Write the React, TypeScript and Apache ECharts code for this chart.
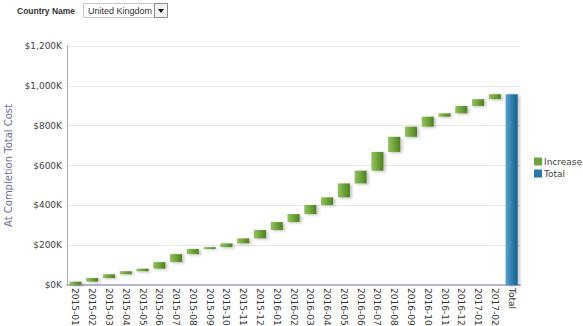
import React, { useEffect, useRef } from "react";
import * as echarts from "echarts";

// Monthly increases of at-completion total cost, in $K
const months = [
  "2015-01", "2015-02", "2015-03", "2015-04", "2015-05", "2015-06", "2015-07",
  "2015-08", "2015-09", "2015-10", "2015-11", "2015-12", "2016-01", "2016-02",
  "2016-03", "2016-04", "2016-05", "2016-06", "2016-07", "2016-08", "2016-09",
  "2016-10", "2016-11", "2016-12", "2017-01", "2017-02",
];
const increases = [
  17, 18, 19, 15, 13, 33, 40, 26, 9, 19, 25, 42, 40, 40, 46, 38, 70, 64, 94,
  76, 51, 50, 17, 37, 34, 25,
];
const totalLabel = "Total";
const yTicks = [0, 200, 400, 600, 800, 1000, 1200];

const FONT = "DejaVu Sans";
const HEAD_FONT = "Liberation Sans";

export default function App() {
  const ref = useRef<HTMLDivElement>(null);

  useEffect(() => {
    if (!ref.current) return;
    const chart = echarts.init(ref.current, undefined, { renderer: "svg" });

    const categories = [...months, totalLabel];
    const total = increases.reduce((a, b) => a + b, 0);
    const bases: number[] = [];
    let run = 0;
    increases.forEach((v) => {
      bases.push(run);
      run += v;
    });

    const baseData = [...bases, 0];
    const incData: (number | string)[] = [...increases, "-"];
    const totData: (number | string)[] = [...months.map(() => "-"), total];

    const green = new echarts.graphic.LinearGradient(0, 0, 1, 0, [
      { offset: 0, color: "#93c263" },
      { offset: 0.45, color: "#73a73f" },
      { offset: 1, color: "#507f22" },
    ]);
    const blue = new echarts.graphic.LinearGradient(0, 0, 1, 0, [
      { offset: 0, color: "#5ea3cb" },
      { offset: 0.5, color: "#2f7fb0" },
      { offset: 1, color: "#15618f" },
    ]);
    const shadow = {
      shadowColor: "rgba(0,0,0,0.25)",
      shadowBlur: 3,
      shadowOffsetX: 2,
      shadowOffsetY: 1,
    };

    chart.setOption({
      animation: false,
      textStyle: { fontFamily: FONT },
      grid: {
        left: 67,
        right: 63,
        top: 46,
        bottom: 41,
        containLabel: false,
        outerBoundsMode: "none",
      },
      legend: {
        data: [
          { name: "Increase", itemStyle: { color: "#6fa23c" } },
          { name: "Total", itemStyle: { color: "#2a78a8" } },
        ],
        orient: "vertical",
        left: 529,
        top: 152,
        itemWidth: 8,
        itemHeight: 8,
        itemGap: 3,
        icon: "rect",
        textStyle: { fontSize: 9, color: "#444", fontFamily: FONT, padding: [0, 0, 0, -3] },
      },
      xAxis: {
        type: "category",
        data: categories,
        axisLine: { lineStyle: { color: "#b4b4cc", width: 2 } },
        axisTick: { show: false },
        axisLabel: {
          rotate: -90,
          interval: 0,
          margin: 3,
          fontSize: 9,
          color: "#333",
          fontFamily: FONT,
        },
      },
      yAxis: {
        type: "value",
        min: yTicks[0],
        max: yTicks[yTicks.length - 1],
        interval: 200,
        name: "At Completion Total Cost",
        nameLocation: "middle",
        nameGap: 52,
        nameTextStyle: { color: "#6e6e9e", fontSize: 10, fontFamily: FONT },
        axisLine: { show: true, lineStyle: { color: "#a6a6c6", width: 1 } },
        axisTick: { show: false },
        splitLine: { lineStyle: { color: "#e6e6ee" } },
        axisLabel: {
          fontSize: 9,
          color: "#444",
          margin: 5,
          fontFamily: FONT,
          formatter: (v: number) => "$" + v.toLocaleString("en-US") + "K",
        },
      },
      series: [
        {
          name: "base",
          type: "bar",
          stack: "w",
          data: baseData,
          itemStyle: { color: "transparent" },
          emphasis: { disabled: true },
          barCategoryGap: "28%",
        },
        {
          name: "Increase",
          type: "bar",
          stack: "w",
          data: incData,
          itemStyle: { color: green, ...shadow },
        },
        {
          name: "Total",
          type: "bar",
          stack: "w",
          data: totData,
          itemStyle: { color: blue, ...shadow },
        },
      ],
      graphic: [
        {
          type: "text",
          left: 17,
          top: 6,
          style: {
            text: "Country Name",
            font: `bold 8.5px ${HEAD_FONT}`,
            fill: "#333",
          },
        },
        {
          type: "rect",
          shape: { x: 83.5, y: 3.5, width: 71, height: 14 },
          style: { fill: "#fff", stroke: "#c8c8c8", lineWidth: 1 },
        },
        {
          type: "text",
          left: 88,
          top: 6,
          style: { text: "United Kingdom", font: `9px ${HEAD_FONT}`, fill: "#333" },
        },
        {
          type: "rect",
          shape: { x: 154.5, y: 3.5, width: 13, height: 14 },
          style: { fill: "#f2f2f2", stroke: "#8a8a8a", lineWidth: 1 },
        },
        {
          type: "polygon",
          shape: { points: [[158, 9], [164, 9], [161, 13]] },
          style: { fill: "#111" },
        },
      ],
    });

    return () => chart.dispose();
  }, []);

  return (
    <div
      ref={ref}
      style={{ position: "absolute", left: 0, top: 0, width: 583, height: 326 }}
    />
  );
}
